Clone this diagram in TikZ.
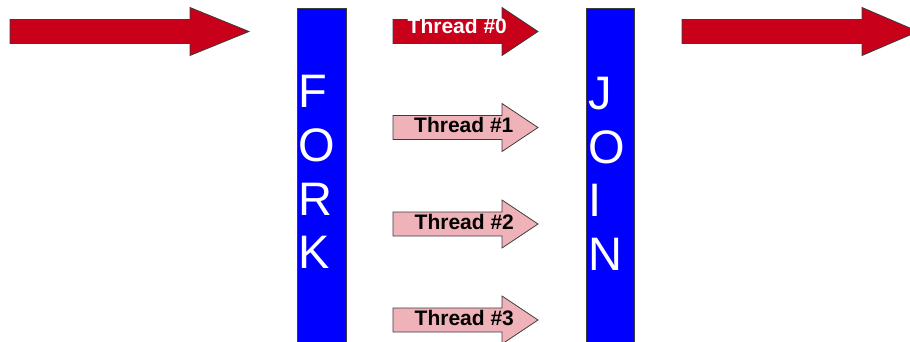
\documentclass[tikz,border=0pt]{standalone}
\usepackage{fontspec}
\setmainfont{Liberation Sans}
\definecolor{flowred}{RGB}{201,0,26}
\definecolor{threadpink}{RGB}{239,178,184}
\definecolor{barblue}{RGB}{0,0,255}
\definecolor{edgegray}{RGB}{60,60,60}
\tikzset{
  blockred/.style={fill=flowred,draw=edgegray,line width=0.8pt,line join=miter},
  blockpink/.style={fill=threadpink,draw=edgegray,line width=0.8pt,line join=miter},
  syncbar/.style={fill=barblue,draw=edgegray,line width=0.8pt},
  barletter/.style={anchor=base west,inner sep=0pt,text=white,font=\fontsize{47}{53.5}\selectfont},
  threadlabel/.style={anchor=base west,inner sep=0pt,font=\fontsize{21}{24}\selectfont\bfseries},
}
% block arrow: #1 style, #2 shaft start x, #3 head start x, #4 tip x, #5 centre y
\newcommand{\blockarrow}[5]{%
  \path[#1] (#2,#5-12) -- (#3,#5-12) -- (#3,#5-24) -- (#4,#5)
    -- (#3,#5+24) -- (#3,#5+12) -- (#2,#5+12) -- cycle;}
\begin{document}
\begin{tikzpicture}[x=1pt,y=-1pt]
\useasboundingbox (0,0) rectangle (910,342);
\fill[white] (0,0) rectangle (910,342);

% incoming and outgoing flow
\blockarrow{blockred}{10}{190}{249}{31.5}
\blockarrow{blockred}{682}{862}{918}{31.5}

% fork and join bars
\path[syncbar] (297,8) rectangle (346,352);
\path[syncbar] (586,8) rectangle (634,352);
\node[barletter] (fF) at (298,108)   {F};
\node[barletter] (fO) at (298,161.5) {O};
\node[barletter] (fR) at (298,215)   {R};
\node[barletter] (fK) at (298,268.5) {K};
\node[barletter] (jJ) at (588.5,109.5) {J};
\node[barletter] (jO) at (588.5,163)   {O};
\node[barletter] (jI) at (588.5,216.5) {I};
\node[barletter] (jN) at (588.5,270)   {N};

% worker threads
\blockarrow{blockred}{393}{502}{538}{31.5}
\blockarrow{blockpink}{393}{502}{538}{127.5}
\blockarrow{blockpink}{393}{502}{538}{224}
\blockarrow{blockpink}{393}{502}{538}{320}
\node[threadlabel,text=white] (t0) at (407.5,34)  {Thread \#0};
\node[threadlabel] (t1) at (414,133)   {Thread \#1};
\node[threadlabel] (t2) at (414.5,229.5) {Thread \#2};
\node[threadlabel] (t3) at (414.5,325)   {Thread \#3};
\end{tikzpicture}
\end{document}
